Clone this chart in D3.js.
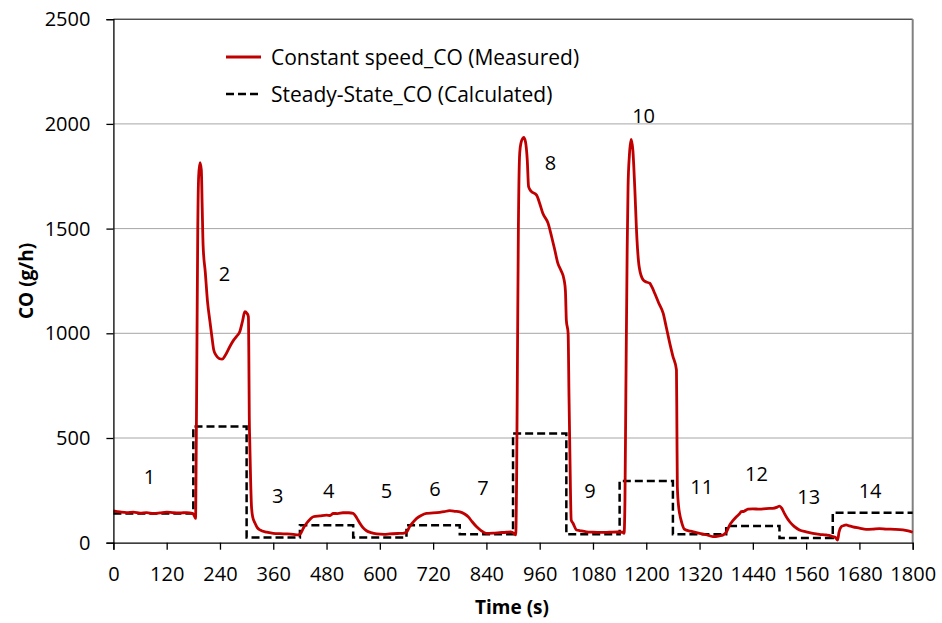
<!DOCTYPE html>
<html>
<head>
<meta charset="utf-8">
<script src="https://cdn.jsdelivr.net/npm/d3@7"></script>
<style>
  html, body { margin: 0; padding: 0; background: #fff; }
  svg { display: block; font-family: "Open Sans", "Noto Sans", sans-serif; }
</style>
</head>
<body>
<svg id="chart" width="942" height="623"></svg>
<script>
// Measured CO trace under constant-speed operation (time in s, CO in g/h)
const measuredTime = [
  0, 15, 30, 45, 60, 75, 90, 105, 120, 135, 150, 165, 178, 183, 185,
  186, 188, 190, 192, 195, 198, 200, 202, 207, 212, 217, 222, 226, 231, 238,
  245, 252, 262, 270, 277, 285, 291, 296, 301, 304, 305, 306, 307, 309, 311,
  314, 319, 324, 330, 345, 360, 375, 390, 405, 416, 422, 428, 435, 443, 450,
  465, 480, 488, 495, 505, 517, 530, 540, 548, 555, 562, 570, 580, 593, 610,
  622, 640, 652, 660, 667, 675, 683, 693, 705, 720, 735, 745, 757, 770, 780,
  790, 799, 808, 818, 828, 840, 855, 870, 885, 895, 902, 906, 908, 910, 912,
  915, 918, 924, 928, 932, 935, 940, 953, 960, 967, 979, 987, 994, 1001, 1008,
  1015, 1018, 1020, 1024, 1026, 1028, 1031, 1035, 1043, 1050, 1065, 1080, 1100, 1117, 1135,
  1147, 1150, 1152, 1154, 1157, 1159, 1162, 1166, 1170, 1174, 1179, 1184, 1193, 1200, 1208,
  1213, 1219, 1228, 1238, 1245, 1253, 1260, 1268, 1269, 1270, 1273, 1275, 1280, 1286, 1300,
  1320, 1335, 1350, 1365, 1373, 1380, 1388, 1395, 1403, 1410, 1414, 1420, 1429, 1440, 1455,
  1470, 1485, 1495, 1500, 1505, 1511, 1517, 1523, 1533, 1545, 1560, 1575, 1590, 1605, 1615,
  1620, 1626, 1631, 1634, 1639, 1645, 1650, 1657, 1665, 1680, 1695, 1710, 1725, 1740, 1760,
  1778, 1790, 1800
];
const measuredCO = [
  152, 147, 144, 146, 141, 144, 139, 142, 146, 143, 142, 144, 140, 125, 116,
  300, 900, 1500, 1750, 1815, 1780, 1600, 1420, 1290, 1150, 1063, 980, 920, 896, 880,
  877, 895, 936, 965, 984, 1010, 1060, 1103, 1095, 1079, 900, 600, 490, 300, 172,
  120, 93, 72, 61, 50, 45, 43, 42, 40, 37, 45, 70, 93, 112, 124,
  128, 132, 130, 140, 139, 143, 143, 140, 118, 93, 72, 57, 48, 42, 40,
  42, 44, 45, 50, 76, 98, 116, 130, 140, 142, 145, 148, 153, 150, 147,
  138, 124, 100, 76, 58, 45, 46, 48, 50, 52, 45, 37, 300, 900, 1500,
  1861, 1910, 1936, 1915, 1828, 1700, 1680, 1660, 1620, 1573, 1525, 1460, 1398, 1334, 1300,
  1255, 1200, 1063, 1000, 700, 427, 108, 93, 61, 58, 52, 50, 49, 50, 51,
  50, 45, 200, 700, 1400, 1700, 1850, 1926, 1870, 1700, 1450, 1318, 1255, 1245, 1239,
  1220, 1191, 1145, 1096, 1030, 952, 890, 825, 550, 267, 170, 140, 95, 64, 55,
  45, 38, 29, 33, 37, 50, 85, 105, 124, 138, 148, 150, 160, 162, 160,
  163, 164, 170, 175, 165, 140, 118, 100, 78, 61, 52, 45, 40, 37, 33,
  29, 25, 13, 50, 76, 82, 85, 80, 76, 70, 64, 65, 67, 65, 64,
  61, 56, 50
];

// Calculated steady-state CO for each of the 14 modes
const modeStart = [0, 180, 300, 420, 540, 660, 780, 900, 1020, 1140, 1260, 1380, 1500, 1620];
const modeEnd = 1800;
const steadyCO = [140, 555, 25, 83, 25, 83, 40, 522, 40, 295, 40, 80, 22, 143];

// Mode number labels, placed at (time, CO)
const modeLabels = ["1", "2", "3", "4", "5", "6", "7", "8", "9", "10", "11", "12", "13", "14"];
const labelTime = [81, 250, 370, 485, 615, 724, 832, 984, 1073, 1194, 1325, 1448, 1566, 1704];
const labelCO = [315, 1286, 224, 247, 247, 260, 263, 1817, 248, 2039, 267, 331, 220, 248];

// Axis ticks
const xTicks = [0, 120, 240, 360, 480, 600, 720, 840, 960, 1080, 1200, 1320, 1440, 1560, 1680, 1800];
const yTicks = [0, 500, 1000, 1500, 2000, 2500];

const legendItems = ["Constant speed_CO (Measured)", "Steady-State_CO (Calculated)"];

const svg = d3.select("#chart");
const W = 942, H = 623;
const margin = { left: 113.4, right: 29.3, top: 19.2, bottom: 80.3 };
const iw = W - margin.left - margin.right;
const ih = H - margin.top - margin.bottom;

const x = d3.scaleLinear().domain([0, 1800]).range([margin.left, margin.left + iw]);
const y = d3.scaleLinear().domain([0, 2500]).range([margin.top + ih, margin.top]);

const fontSize = 20;
const dash = "8,4";

// Horizontal gridlines
svg.append("g")
  .selectAll("line")
  .data(yTicks.filter(v => v > 0 && v < 2500))
  .join("line")
  .attr("x1", x(0)).attr("x2", x(1800))
  .attr("y1", d => y(d)).attr("y2", d => y(d))
  .attr("stroke", "#a6a6a6").attr("stroke-width", 1);

// Plot frame: top and right edges
svg.append("line")
  .attr("x1", x(0)).attr("x2", x(1800))
  .attr("y1", y(2500)).attr("y2", y(2500))
  .attr("stroke", "#000").attr("stroke-width", 1);
svg.append("line")
  .attr("x1", x(1800)).attr("x2", x(1800))
  .attr("y1", y(2500)).attr("y2", y(0))
  .attr("stroke", "#808080").attr("stroke-width", 2);

// Steady-state step line
const stepData = modeStart.map((t, i) => ({ t, v: steadyCO[i] }));
stepData.push({ t: modeEnd, v: steadyCO[steadyCO.length - 1] });
const stepLine = d3.line().x(d => x(d.t)).y(d => y(d.v)).curve(d3.curveStepAfter);

// Measured line
const measData = measuredTime.map((t, i) => ({ t, v: measuredCO[i] }));
const measLine = d3.line().x(d => x(d.t)).y(d => y(d.v)).curve(d3.curveMonotoneX);

svg.append("path")
  .datum(stepData)
  .attr("d", stepLine)
  .attr("fill", "none")
  .attr("stroke", "#000")
  .attr("stroke-width", 2.5)
  .attr("stroke-dasharray", dash);

svg.append("path")
  .datum(measData)
  .attr("d", measLine)
  .attr("fill", "none")
  .attr("stroke", "#c00000")
  .attr("stroke-width", 2.8)
  .attr("stroke-linejoin", "round");

// Axes
const xAxis = d3.axisBottom(x).tickValues(xTicks).tickSize(7).tickPadding(17).tickFormat(d3.format("d"));
const yAxis = d3.axisLeft(y).tickValues(yTicks).tickSize(7).tickPadding(16).tickFormat(d3.format("d"));

const gx = svg.append("g").attr("transform", `translate(0,${y(0)})`).call(xAxis);
const gy = svg.append("g").attr("transform", `translate(${x(0)},0)`).call(yAxis);
[gx, gy].forEach(g => {
  g.select(".domain").attr("stroke", "#000").attr("stroke-width", 1.3);
  g.selectAll(".tick line").attr("stroke", "#000").attr("stroke-width", 1.3);
  g.selectAll(".tick text")
    .attr("fill", "#000")
    .style("font-family", "'Open Sans', sans-serif")
    .style("font-size", fontSize + "px");
});

// Axis titles
svg.append("text")
  .attr("x", (x(0) + x(1800)) / 2 - 1)
  .attr("y", 607)
  .attr("text-anchor", "middle")
  .attr("dominant-baseline", "central")
  .style("font-weight", "bold")
  .style("font-size", "19px")
  .text("Time (s)");

svg.append("text")
  .attr("transform", `translate(26,${(y(0) + y(2500)) / 2}) rotate(-90)`)
  .attr("text-anchor", "middle")
  .attr("dominant-baseline", "central")
  .style("font-weight", "bold")
  .style("font-size", "19px")
  .text("CO (g/h)");

// Mode labels
svg.append("g")
  .selectAll("text")
  .data(modeLabels)
  .join("text")
  .attr("x", (d, i) => x(labelTime[i]))
  .attr("y", (d, i) => y(labelCO[i]))
  .attr("text-anchor", "middle")
  .attr("dominant-baseline", "central")
  .style("font-size", fontSize + "px")
  .text(d => d);

// Legend
const legend = svg.append("g");
const legendY = [57, 94];
legendItems.forEach((label, i) => {
  legend.append("line")
    .attr("x1", 226).attr("x2", 261)
    .attr("y1", legendY[i]).attr("y2", legendY[i])
    .attr("stroke", i === 0 ? "#c00000" : "#000")
    .attr("stroke-width", i === 0 ? 2.8 : 2.5)
    .attr("stroke-dasharray", i === 0 ? null : dash);
  legend.append("text")
    .attr("x", 271)
    .attr("y", legendY[i])
    .attr("dominant-baseline", "central")
    .style("font-size", "21px")
    .text(label);
});
</script>
</body>
</html>
